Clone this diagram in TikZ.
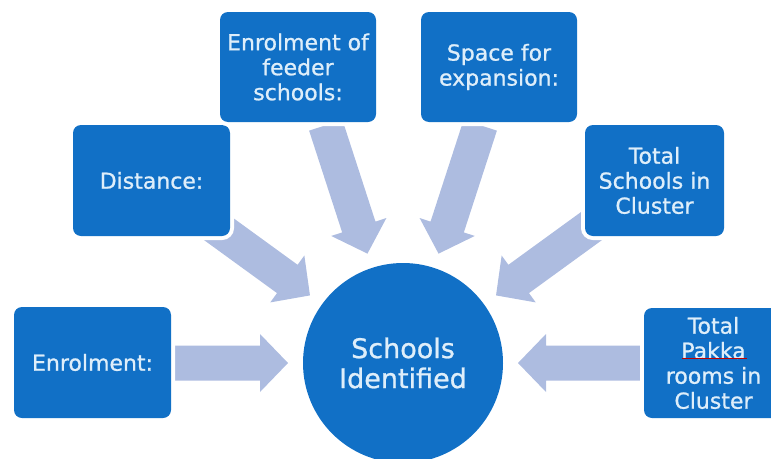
\documentclass[tikz,border=0pt]{standalone}
\usepackage{fontspec}
\setmainfont[FakeBold=0.9]{DejaVu Sans}
\definecolor{boxblue}{RGB}{17,112,198}
\definecolor{arrowblue}{RGB}{173,188,224}
\definecolor{txtcol}{RGB}{222,238,250}
\tikzset{
  infobox/.style={rounded corners=8pt, fill=boxblue, preaction={draw=white, line width=8pt},
    text=txtcol, font=\fontsize{22}{25}\selectfont, align=center, inner sep=0pt,
    minimum width=157pt, minimum height=111pt},
  hubcircle/.style={circle, fill=boxblue, text=txtcol, font=\fontsize{27}{30}\selectfont,
    align=center, minimum size=200pt, inner sep=0pt},
  blockarr/.style={fill=arrowblue}
}
\newcommand\blockarrow[2]{%
  \fill[blockarr, shift={(C)}, rotate=#1] (115,0) -- (143,29) -- (143,17.5) -- (#2,17.5)
    -- (#2,-17.5) -- (143,-17.5) -- (143,-29) -- cycle;}
\begin{document}
\begin{tikzpicture}[x=1pt,y=1pt]
\useasboundingbox (0,0) rectangle (771,-458);
\clip (0,0) rectangle (771,-458);
\coordinate (C) at (403,-363);
% arrows
\blockarrow{180}{228}
\blockarrow{144}{250}
\blockarrow{108}{250}
\blockarrow{72}{250}
\blockarrow{36}{250}
\blockarrow{0}{237}
% boxes
\node[infobox] (enrol) at (92.5,-362.5) {Enrolment:};
\node[infobox] (dist) at (151.5,-180.5) {Distance:};
\node[infobox, minimum width=156pt, minimum height=110pt] (feeder) at (298,-67) {Enrolment of\\feeder\\schools:};
\node[infobox, minimum width=156pt, minimum height=110pt] (space) at (499,-67) {Space for\\expansion:};
\node[infobox, minimum width=139pt] (total) at (654.5,-180.5) {Total\\Schools in\\Cluster};
\node[infobox, minimum width=139pt, minimum height=110pt] (pakka) at (713.5,-363) {Total\\Pakka\\rooms in\\Cluster};
\node[hubcircle] (hub) at (C) {Schools\\Identified};
\draw[red!75!black, line width=0.8pt] (682,-358) -- (747,-358);
\end{tikzpicture}
\end{document}
